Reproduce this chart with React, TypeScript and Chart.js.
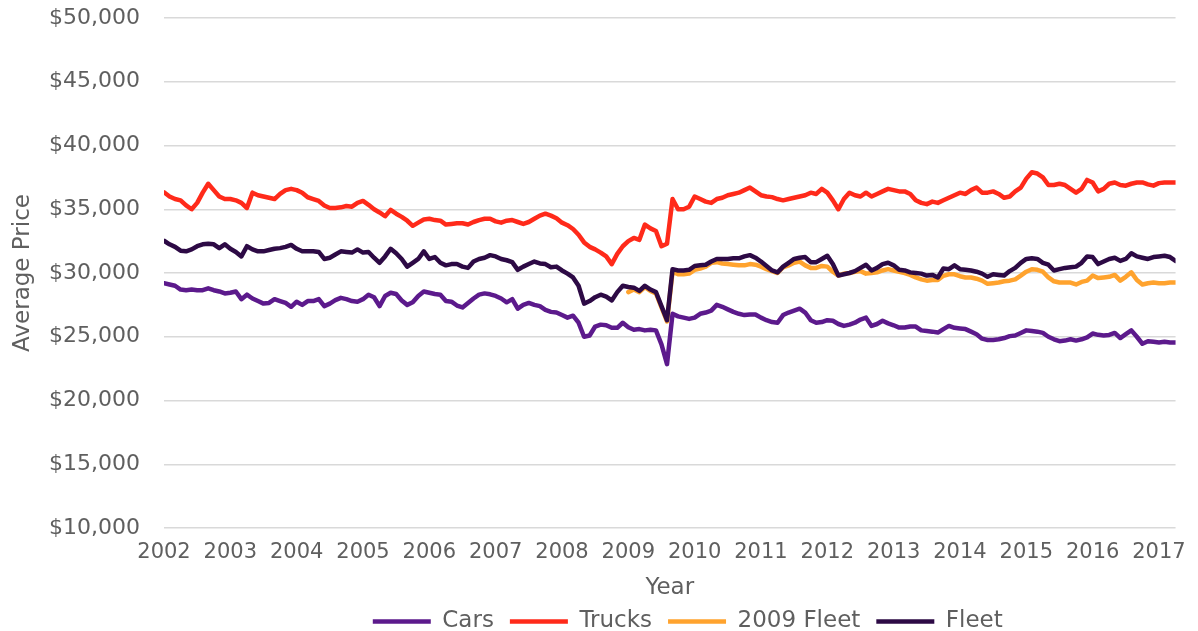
import React, { useEffect, useRef } from 'react';
import { Chart, registerables } from 'chart.js';

Chart.register(...registerables);

// Year tick labels (one tick every 12 monthly points, Jan 2002 = index 0)
const yearLabels = ['2002', '2003', '2004', '2005', '2006', '2007', '2008', '2009', '2010', '2011', '2012', '2013', '2014', '2015', '2016', '2017'];
const monthsPerYear = 12;

const seriesNames = ['Cars', 'Trucks', '2009 Fleet', 'Fleet'];

// Monthly average prices, Jan 2002 .. Apr 2017
const cars = [
  29200, 29100, 29000, 28700, 28650, 28700, 28650, 28650, 28800, 28650, 28550, 28400,
  28450, 28550, 27950, 28300, 28000, 27800, 27600, 27650, 27950, 27800, 27650, 27350,
  27750, 27500, 27800, 27800, 27950, 27400, 27600, 27870, 28050, 27950, 27800, 27750,
  27950, 28300, 28100, 27400, 28200, 28450, 28350, 27850, 27500, 27700, 28200, 28550,
  28450, 28350, 28300, 27800, 27750, 27450, 27300, 27650, 28000, 28300, 28400, 28330,
  28200, 28000, 27700, 27950, 27200, 27500, 27650, 27500, 27400, 27100, 26950, 26900,
  26700, 26500, 26650, 26100, 25000, 25100, 25800, 25950, 25900, 25700, 25700, 26100,
  25750, 25550, 25600, 25500, 25550, 25500, 24400, 22850, 26800, 26600, 26500, 26400,
  26500, 26800, 26900, 27050, 27500, 27350, 27150, 26950, 26800, 26700, 26750, 26750,
  26500, 26300, 26150, 26100, 26700, 26900, 27050, 27200, 26900, 26300, 26100, 26150,
  26300, 26250, 26000, 25850, 25950, 26100, 26350, 26500, 25850, 26000, 26250, 26050,
  25900, 25720, 25720, 25800, 25800, 25500, 25450, 25400, 25330, 25600, 25850, 25700,
  25650, 25600, 25400, 25200, 24850, 24750, 24750, 24800, 24900, 25050, 25100, 25300,
  25500, 25450, 25400, 25300, 25000, 24800, 24650, 24700, 24800, 24700, 24800, 24950,
  25250, 25150, 25100, 25140, 25300, 24900, 25200, 25500, 25000, 24450, 24650, 24600,
  24550, 24600, 24550, 24550,
];

const trucks = [
  36330, 36000, 35800, 35700, 35300, 35000, 35500, 36300, 37000, 36500, 36000, 35800,
  35800, 35700, 35500, 35100, 36300, 36100, 36000, 35900, 35800, 36200, 36500, 36600,
  36500, 36300, 35940, 35800, 35650, 35300, 35100, 35100, 35150, 35250, 35200, 35500,
  35650, 35350, 35000, 34750, 34450, 34950, 34650, 34400, 34100, 33700, 33950, 34200,
  34250, 34150, 34100, 33800, 33850, 33900, 33900, 33800, 34000, 34150, 34250, 34250,
  34050, 33950, 34100, 34150, 34000, 33850, 34000, 34250, 34500, 34650, 34500, 34300,
  33950, 33750, 33450, 33000, 32400, 32050, 31850, 31600, 31300, 30700, 31500, 32100,
  32500, 32750, 32600, 33800, 33500, 33300, 32100, 32300, 35800, 35000, 35000, 35200,
  36000, 35800, 35600, 35500, 35800, 35900, 36100, 36200, 36300, 36500, 36700, 36400,
  36100, 36000, 35950, 35800, 35700, 35800, 35900, 36000, 36100, 36300, 36200, 36600,
  36300, 35700, 35000, 35800, 36300, 36100, 36000, 36300, 36000, 36200, 36400, 36600,
  36500, 36400, 36400, 36200, 35700, 35500, 35400, 35600, 35500, 35700, 35900, 36100,
  36300, 36200, 36500, 36700, 36300, 36300, 36400, 36200, 35900, 36000, 36400, 36700,
  37400, 37900, 37800, 37500, 36900, 36900, 37000, 36900, 36600, 36300, 36600, 37300,
  37100, 36400, 36600, 37000, 37100, 36900, 36850, 37000, 37100, 37100, 36950, 36850,
  37050, 37100, 37100, 37100,
];

const fleet = [
  32530, 32250, 32050, 31750, 31700, 31850, 32100, 32250, 32300, 32250, 31950, 32250,
  31900, 31650, 31300, 32100, 31850, 31700, 31700, 31800, 31900, 31950, 32050, 32200,
  31900, 31700, 31700, 31700, 31650, 31100, 31200, 31450, 31700, 31650, 31600, 31850,
  31600, 31650, 31200, 30800, 31300, 31900, 31550, 31100, 30500, 30800, 31100, 31700,
  31100, 31250, 30800, 30600, 30700, 30700, 30500, 30400, 30900, 31100, 31200, 31400,
  31300, 31100, 31000, 30850, 30250, 30500, 30700, 30900, 30750, 30700, 30450, 30500,
  30200, 29950, 29650, 29000, 27600, 27800, 28100, 28300, 28150, 27850, 28500, 29000,
  28900, 28850, 28600, 29000, 28700, 28500, 27400, 26300, 30300, 30200, 30200, 30250,
  30550, 30600, 30650, 30900, 31100, 31100, 31100, 31150, 31150, 31300, 31400, 31200,
  30900, 30550, 30200, 30050, 30500, 30800, 31100, 31200, 31250, 30850, 30850, 31100,
  31350, 30700, 29800, 29900, 30000, 30150, 30400, 30650, 30200, 30400, 30700, 30800,
  30600, 30250, 30200, 30050, 30000, 29950, 29800, 29850, 29650, 30350, 30300, 30600,
  30300, 30250, 30200, 30100, 29950, 29700, 29900, 29850, 29800, 30150, 30400, 30800,
  31100, 31150, 31100, 30800, 30650, 30200, 30300, 30400, 30450, 30500, 30800, 31300,
  31250, 30700, 30900, 31100, 31200, 30950, 31100, 31550, 31300, 31200, 31100, 31250,
  31300, 31350, 31250, 30950,
];

// 2009 Fleet starts in Jan 2009
const fleet2009StartYear = '2009';
const fleet2009 = [
  28500, 28700, 28500, 28900, 28600, 28400, 27300, 26200, 30100, 29900, 29900, 29950,
  30250, 30350, 30500, 30800, 30850, 30750, 30700, 30650, 30600, 30600, 30700, 30650,
  30500, 30300, 30150, 30000, 30450, 30600, 30800, 30900, 30600, 30400, 30400, 30550,
  30500, 30100, 29800, 29950, 30000, 30100, 30150, 29950, 30000, 30050, 30200, 30300,
  30200, 30100, 30000, 29850, 29650, 29500, 29400, 29450, 29450, 29780, 29900, 29900,
  29750, 29650, 29650, 29550, 29400, 29150, 29200, 29250, 29350, 29400, 29500, 29800,
  30100, 30300, 30250, 30100, 29650, 29350, 29250, 29250, 29250, 29100, 29300, 29400,
  29800, 29600, 29650, 29700, 29850, 29400, 29700, 30050, 29450, 29100, 29200, 29250,
  29200, 29200, 29250, 29250,
];

const seriesColors = ['#5c1a8c', '#ff2a1a', '#ffa32e', '#2d0a45'];
const textColor = '#5f5f5f';
const fontFamily = "'DejaVu Sans', 'Liberation Sans', sans-serif";

const toPoints = (values: number[], startIndex: number) =>
  values.map((v, i) => ({ x: startIndex + i, y: v }));

// nudges the bottom legend a little right and down, as in the reference
const legendShift = {
  id: 'legendShift',
  afterLayout(chart: any) {
    if (chart.legend) {
      chart.legend.left += 18;
      chart.legend.right += 18;
      chart.legend.top += 4;
      chart.legend.bottom += 4;
    }
  },
};

export default function App() {
  const canvasRef = useRef<HTMLCanvasElement | null>(null);

  useEffect(() => {
    if (!canvasRef.current) return;
    const fleet2009Start = yearLabels.indexOf(fleet2009StartYear) * monthsPerYear;
    const seriesData = [
      toPoints(cars, 0),
      toPoints(trucks, 0),
      toPoints(fleet2009, fleet2009Start),
      toPoints(fleet, 0),
    ];
    const drawOrder = [3, 2, 1, 0];

    const chart = new Chart(canvasRef.current, {
      type: 'line',
      data: {
        datasets: seriesNames.map((name, i) => ({
          label: name,
          data: seriesData[i],
          borderColor: seriesColors[i],
          backgroundColor: seriesColors[i],
          borderWidth: 4.5,
          borderCapStyle: 'round',
          borderJoinStyle: 'round',
          pointRadius: 0,
          pointHoverRadius: 0,
          pointStyle: 'line',
          tension: 0,
          order: drawOrder[i],
        })),
      },
      plugins: [legendShift],
      options: {
        animation: false,
        responsive: true,
        maintainAspectRatio: false,
        layout: { padding: { left: 0, right: 19, top: 18, bottom: -8 } },
        plugins: {
          tooltip: { enabled: false },
          legend: {
            display: true,
            position: 'bottom',
            fullSize: false,
            labels: {
              usePointStyle: true,
              pointStyle: 'line',
              pointStyleWidth: 58,
              padding: 16,
              color: textColor,
              font: { family: fontFamily, size: 23 },
              sort: (a: any, b: any) => a.datasetIndex - b.datasetIndex,
            },
          },
        },
        scales: {
          x: {
            type: 'linear',
            min: 0,
            max: cars.length - 1,
            afterBuildTicks: (axis: any) => {
              axis.ticks = yearLabels.map((_, i) => ({ value: i * monthsPerYear }));
            },
            afterFit: (axis: any) => {
              axis.height = 62;
            },
            ticks: {
              autoSkip: false,
              maxRotation: 0,
              minRotation: 0,
              padding: 12,
              color: textColor,
              font: { family: fontFamily, size: 21 },
              callback: (value: any) => yearLabels[Math.round(Number(value) / monthsPerYear)],
            },
            grid: { display: false, drawTicks: false },
            border: { display: false },
            title: {
              display: true,
              text: 'Year',
              color: textColor,
              font: { family: fontFamily, size: 23 },
              padding: { top: 0, bottom: -12 },
            },
          },
          y: {
            min: 10000,
            max: 50000,
            afterFit: (axis: any) => {
              axis.width = 164;
              axis.paddingTop = 0;
              axis.paddingBottom = 0;
            },
            ticks: {
              stepSize: 5000,
              padding: 24,
              color: textColor,
              font: { family: fontFamily, size: 22 },
              callback: (value: any) => '$' + Number(value).toLocaleString('en-US'),
            },
            grid: { color: '#d9d9d9', lineWidth: 1.5, drawTicks: false },
            border: { display: false },
            title: {
              display: true,
              text: 'Average Price',
              color: textColor,
              font: { family: fontFamily, size: 23 },
              padding: { top: 9, bottom: 0 },
            },
          },
        },
      },
    } as any);

    return () => chart.destroy();
  }, []);

  return (
    <div style={{ position: 'fixed', left: 0, top: 0, width: 1198, height: 631, background: '#ffffff' }}>
      <canvas ref={canvasRef} />
    </div>
  );
}
